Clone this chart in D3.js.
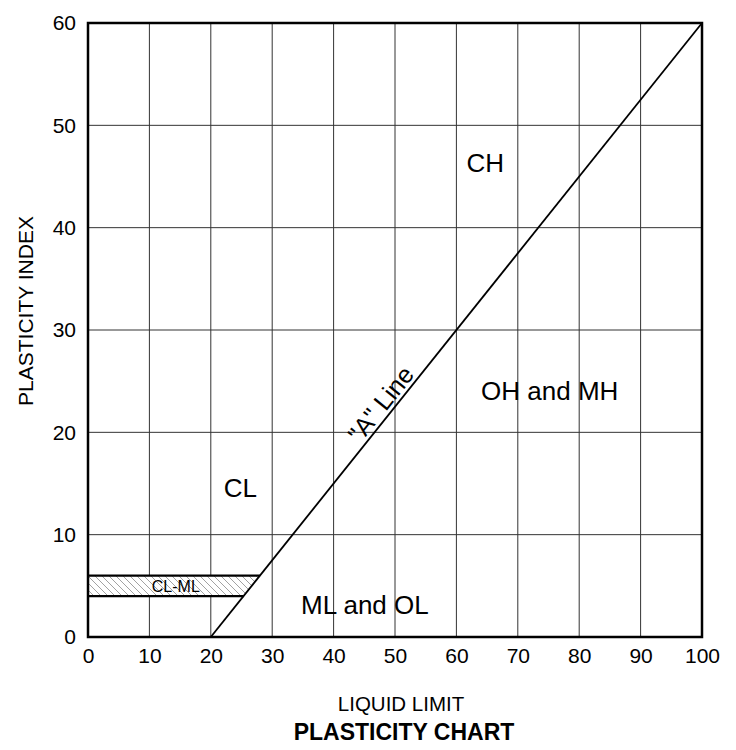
<!DOCTYPE html>
<html lang="en">
  <head>
    <meta charset="utf-8">
    <script src="https://cdn.jsdelivr.net/npm/d3@7"></script>
    <style>
      body{
        margin:0;
        background:white;
      }
      svg text{
        font-family:"Liberation Sans", Arial, sans-serif;
        fill:black;
      }
    </style>
  </head>
  <body>
    <svg></svg>
  </body>
  <script>

    // chart values
    var xTicks = [0,10,20,30,40,50,60,70,80,90,100];
    var yTicks = [0,10,20,30,40,50,60];
    var aLine = [[20,0],[100,60]];
    var clmlBand = [[0,4],[25.33,4],[28,6],[0,6]];
    var zoneNames = ["CH","OH and MH","CL","ML and OL"];
    var zoneLL = [64.7,75.2,24.8,45.1];
    var zonePI = [45.4,23.2,13.7,2.25];

    var svgwidth = 736;
    var svgheight = 750;
    var margins = {top:23, left:88, right:34, bottom:113};
    var width = svgwidth - margins.left - margins.right;
    var height = svgheight - margins.top - margins.bottom;

    var svg = d3.select('svg')
                .attr('width',svgwidth)
                .attr('height',svgheight);

    var xScale = d3.scaleLinear().domain([0,100]).range([0,width]);
    var yScale = d3.scaleLinear().domain([0,60]).range([height,0]);

    // hatch for the CL-ML band
    var pattern = svg.append('defs').append('pattern')
                     .attr('id','hatch')
                     .attr('patternUnits','userSpaceOnUse')
                     .attr('width',7)
                     .attr('height',7);
    pattern.append('path')
           .attr('d','M-1,-1 L8,8 M-8,-1 L1,8 M6,-1 L15,8')
           .attr('stroke','#8a8a8a')
           .attr('stroke-width',0.8);

    var plot = svg.append('g')
                  .attr('transform','translate('+margins.left+','+margins.top+')');

    // grid
    plot.append('g').selectAll('line')
        .data(xTicks.slice(1,-1))
        .enter().append('line')
        .attr('x1',function(d){ return xScale(d); })
        .attr('x2',function(d){ return xScale(d); })
        .attr('y1',0).attr('y2',height)
        .attr('stroke','#333').attr('stroke-width',1);

    plot.append('g').selectAll('line')
        .data(yTicks.slice(1,-1))
        .enter().append('line')
        .attr('y1',function(d){ return yScale(d); })
        .attr('y2',function(d){ return yScale(d); })
        .attr('x1',0).attr('x2',width)
        .attr('stroke','#333').attr('stroke-width',1);

    // CL-ML band
    var lineGen = d3.line()
                    .x(function(d){ return xScale(d[0]); })
                    .y(function(d){ return yScale(d[1]); });

    plot.append('path')
        .attr('d',lineGen(clmlBand)+'Z')
        .attr('fill','white');
    plot.append('path')
        .attr('d',lineGen(clmlBand)+'Z')
        .attr('fill','url(#hatch)');
    plot.append('path')
        .attr('d',lineGen([clmlBand[0],clmlBand[1]]))
        .attr('stroke','black').attr('stroke-width',2.2);
    plot.append('path')
        .attr('d',lineGen([clmlBand[3],clmlBand[2]]))
        .attr('stroke','black').attr('stroke-width',2.2);

    plot.append('text')
        .attr('x',xScale(14.3))
        .attr('y',yScale(4.35))
        .attr('text-anchor','middle')
        .style('font-size','16px')
        .text('CL-ML');

    // A line
    plot.append('path')
        .attr('d',lineGen(aLine))
        .attr('fill','none')
        .attr('stroke','black')
        .attr('stroke-width',1.8);

    var angle = Math.atan2(yScale(aLine[0][1])-yScale(aLine[1][1]), xScale(aLine[1][0])-xScale(aLine[0][0]))*180/Math.PI;
    var anchorLL = 49.3;
    var anchorPI = aLine[0][1] + (anchorLL-aLine[0][0])*(aLine[1][1]-aLine[0][1])/(aLine[1][0]-aLine[0][0]);
    plot.append('text')
        .attr('transform','translate('+xScale(anchorLL)+','+yScale(anchorPI)+') rotate('+(-angle)+')')
        .attr('text-anchor','middle')
        .attr('dy',-4)
        .style('font-size','25px')
        .text('"A" Line');

    // zone labels
    plot.selectAll('.zone')
        .data(zoneNames)
        .enter().append('text')
        .classed('zone',true)
        .attr('x',function(d,i){ return xScale(zoneLL[i]); })
        .attr('y',function(d,i){ return yScale(zonePI[i]); })
        .attr('text-anchor','middle')
        .style('font-size','26px')
        .text(function(d){ return d; });

    // frame
    plot.append('rect')
        .attr('width',width).attr('height',height)
        .attr('fill','none')
        .attr('stroke','black')
        .attr('stroke-width',2.5);

    // axes
    var xAxis = d3.axisBottom(xScale).tickValues(xTicks).tickSize(0).tickPadding(11);
    plot.append('g')
        .attr('transform','translate(0,'+height+')')
        .call(xAxis)
        .call(function(g){ g.select('.domain').remove(); })
        .selectAll('text')
        .style('font-size','21px')
        .attr('fill','black');

    var yAxis = d3.axisLeft(yScale).tickValues(yTicks).tickSize(0).tickPadding(12);
    plot.append('g')
        .call(yAxis)
        .call(function(g){ g.select('.domain').remove(); })
        .selectAll('text')
        .style('font-size','21px')
        .attr('fill','black');

    // titles
    svg.append('text')
       .attr('x',401)
       .attr('y',711)
       .attr('text-anchor','middle')
       .style('font-size','20.5px')
       .text('LIQUID LIMIT');

    svg.append('text')
       .attr('x',404)
       .attr('y',740)
       .attr('text-anchor','middle')
       .style('font-size','23px')
       .style('font-weight','bold')
       .text('PLASTICITY CHART');

    svg.append('text')
       .attr('transform','translate(33,311) rotate(-90)')
       .attr('text-anchor','middle')
       .style('font-size','21px')
       .text('PLASTICITY INDEX');

  </script>
</html>
